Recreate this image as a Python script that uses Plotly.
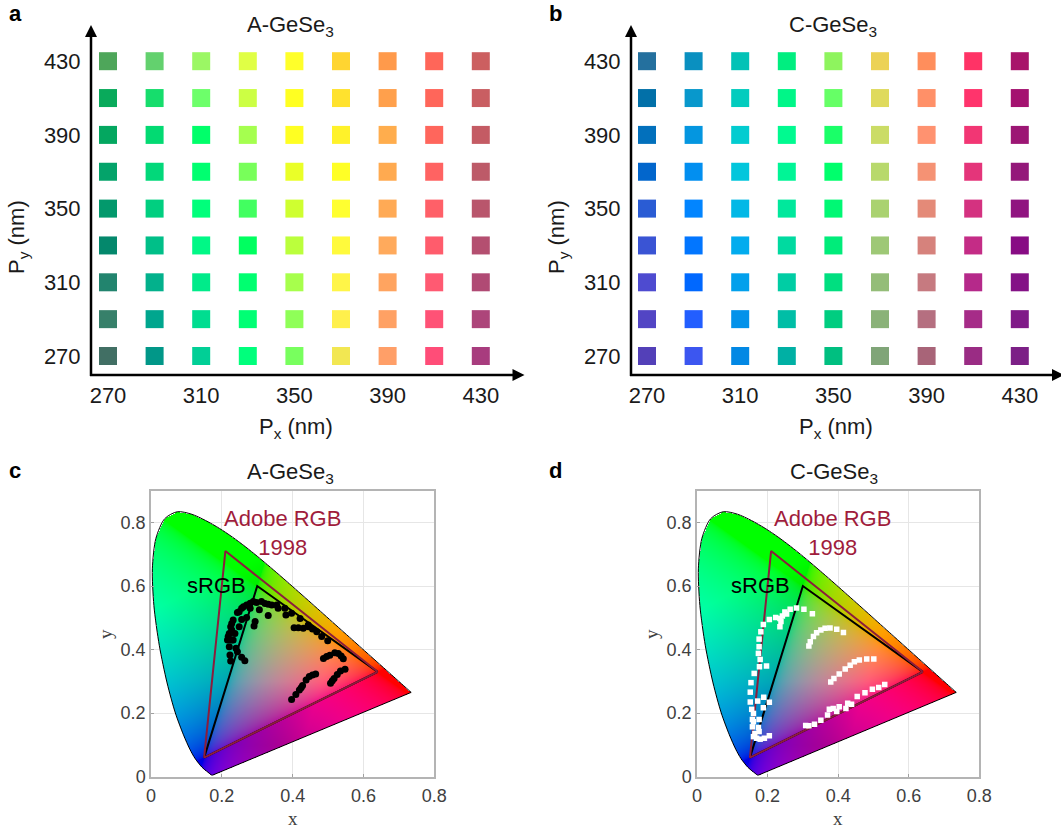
import numpy as np
import plotly.graph_objects as go

W, H = 1061, 833

# ---------- data ----------
P_nm = [270, 290, 310, 330, 350, 370, 390, 410, 430]
tick_nm = [270, 310, 350, 390, 430]

# colours by row, first row is Py = 430 nm, last row Py = 270 nm
a_colors = [
    ["#4ea65a", "#63d16e", "#9bf764", "#e0ff45", "#ffff2a", "#ffd531", "#ff9a4b", "#ff6659", "#cc5f60"],
    ["#09aa5b", "#16dd6c", "#6dff6a", "#ccff44", "#ffff22", "#ffe22e", "#ffa04c", "#ff665a", "#c95e62"],
    ["#04a760", "#02da72", "#00ff6a", "#a5ff4f", "#ffff22", "#fff22a", "#ffad4d", "#ff665c", "#c45b64"],
    ["#04a36a", "#02d87a", "#00ff70", "#78ff5a", "#eaff28", "#ffff26", "#ffaa50", "#ff6362", "#bd5a68"],
    ["#03996c", "#01cf80", "#00ff7b", "#42ff60", "#cfff30", "#ffff30", "#ffaa55", "#ff6068", "#b9566c"],
    ["#04886c", "#00bf88", "#00f886", "#00ff60", "#bbff3c", "#fffa3c", "#ffaa5c", "#ff5c6c", "#b44f70"],
    ["#22846e", "#03b18c", "#00eb8a", "#00ff70", "#a7ff4c", "#fff548", "#ffa460", "#ff5a72", "#b04a74"],
    ["#37806a", "#00a68e", "#00dd90", "#00ff74", "#8fff58", "#fff04c", "#ffa164", "#ff5276", "#ad457a"],
    ["#416f64", "#019788", "#01cf96", "#00ff7c", "#78ff5e", "#f2e752", "#ff9f68", "#ff4d78", "#a83c7e"],
]
b_colors = [
    ["#24709e", "#0a90c0", "#02c2b6", "#00ee80", "#8ef45e", "#ecd256", "#ff8e5c", "#ff3366", "#a8146a"],
    ["#0270a8", "#0898cc", "#02ccbe", "#00f688", "#66ff66", "#dfda5c", "#ff9068", "#ff346c", "#a41270"],
    ["#0270bc", "#0496e0", "#02ccd0", "#00fa90", "#1aff68", "#cbdc66", "#ff9270", "#f23674", "#9c1674"],
    ["#0266cc", "#028ff0", "#02c6dc", "#00f596", "#00ff6c", "#b8d96c", "#f59274", "#e4357a", "#94187a"],
    ["#2a5cd4", "#0285ff", "#02b8e6", "#00e89c", "#00f874", "#aad270", "#e48a78", "#d43280", "#901480"],
    ["#3a54d4", "#0276ff", "#02acee", "#00daa0", "#00ec7a", "#9ec876", "#d6827c", "#c42c86", "#880c84"],
    ["#4e4bd0", "#0068ff", "#02a0ec", "#00cda4", "#00df80", "#94bd78", "#c67a80", "#b5298a", "#841286"],
    ["#5245c4", "#225eff", "#0292ea", "#00bea6", "#00cd80", "#8ab278", "#b56f80", "#a62c88", "#801a88"],
    ["#5340b8", "#3c56f0", "#0288e4", "#00b0a4", "#00bf80", "#80a578", "#a86478", "#9a2c84", "#7c2086"],
]

# CIE 1931 spectral locus (the last point closes it along the purple line)
locus_x = [.1741, .1733, .1714, .1689, .1644, .1566, .1440, .1241, .1096, .0913, .0687, .0454, .0235, .0082, .0039,
           .0139, .0389, .0743, .1142, .1547, .1929, .2296, .2658, .3016, .3373, .3731, .4087, .4441, .4788, .5125,
           .5448, .5752, .6029, .6270, .6658, .6915, .7079, .7260, .7347, .1741]
locus_y = [.0050, .0048, .0051, .0069, .0109, .0177, .0297, .0578, .0868, .1327, .2007, .2950, .4127, .5384, .6548,
           .7502, .8120, .8338, .8262, .8059, .7816, .7543, .7243, .6923, .6589, .6245, .5896, .5547, .5202, .4866,
           .4544, .4242, .3965, .3725, .3340, .3083, .2920, .2740, .2653, .0050]
srgb_x = [.64, .30, .15, .64]
srgb_y = [.33, .60, .06, .33]
adobe_x = [.64, .21, .15, .64]
adobe_y = [.33, .71, .06, .33]

# A-GeSe3 measured chromaticities
c_x = [.265, .256, .244, .240, .225, .223, .221, .216, .221, .225, .232, .244, .256, .270, .289, .312, .331, .355,
       .378, .397, .421, .444, .232, .237, .249, .256, .270, .280, .306, .331, .359, .381, .294, .291, .228, .249,
       .261, .228, .218, .228, .280, .298, .322, .341,
       .404, .416, .430, .444, .456, .468, .482, .499,
       .487, .496, .505, .519, .529, .537, .543,
       .397, .409, .419, .424, .428, .438, .447, .456, .465,
       .507, .512, .517, .526, .535, .548]
c_y = [.365, .376, .393, .404, .364, .383, .409, .430, .451, .472, .493, .517, .530, .540, .551, .551, .543, .540,
       .530, .514, .498, .477, .430, .451, .472, .495, .501, .530, .525, .507, .530, .509, .488, .474, .462, .519,
       .535, .482, .441, .430, .546, .548, .545, .540,
       .469, .469, .467, .472, .465, .456, .441, .428,
       .372, .378, .382, .390, .388, .380, .371,
       .243, .259, .273, .280, .287, .304, .315, .320, .323,
       .294, .302, .309, .322, .333, .338]

# C-GeSe3 measured chromaticities
d_x = [.327, .303, .282, .264, .249, .242, .254, .235, .223, .238, .235, .205, .188, .181, .176, .176, .174, .179,
       .197, .177, .162, .153, .151, .151, .172, .189, .205, .155, .160, .188, .157, .176, .160, .157, .174, .176,
       .164, .160, .169, .179, .191, .205,
       .317, .321, .330, .339, .351, .363, .377, .396, .415,
       .379, .388, .403, .420, .434, .446, .460, .481, .501,
       .308, .317, .333, .351, .370, .375, .386, .396, .403, .422, .427, .438, .454, .476, .497, .515, .532]
d_y = [.513, .527, .531, .527, .518, .506, .512, .498, .501, .488, .472, .495, .479, .456, .433, .409, .388, .369,
       .348, .346, .325, .296, .266, .235, .238, .250, .234, .212, .199, .217, .180, .180, .173, .157, .155, .142,
       .136, .126, .121, .118, .121, .129,
       .411, .425, .441, .453, .462, .467, .468, .464, .454,
       .298, .309, .323, .339, .351, .362, .367, .370, .370,
       .161, .160, .165, .178, .194, .212, .215, .205, .220, .215, .231, .228, .252, .264, .275, .281, .290]

cie_xticks = [0, 0.2, 0.4, 0.6, 0.8]
cie_yticks = [0, 0.2, 0.4, 0.6, 0.8]

# ---------- helpers ----------
FONT = "Liberation Sans, Arial, sans-serif"
SERIF = "Liberation Serif, Times New Roman, serif"
fx = lambda p: p / W
fy = lambda p: 1 - p / H


def gamut_image(nx, ny, xmax, ymax):
    xs = (np.arange(nx) + .5) * xmax / nx
    ys = (np.arange(ny) + .5) * ymax / ny
    X, Y = np.meshgrid(xs, ys)
    # inside test against the locus polygon
    px, py = np.array(locus_x), np.array(locus_y)
    inside = np.zeros(X.shape, bool)
    for i in range(len(px) - 1):
        x1, y1, x2, y2 = px[i], py[i], px[i + 1], py[i + 1]
        cond = (y1 > Y) != (y2 > Y)
        xc = x1 + (Y - y1) * (x2 - x1) / (y2 - y1 + 1e-12)
        inside ^= cond & (X < xc)
    XX, YY, ZZ = X, Y, 1 - X - Y
    R = 3.2406 * XX - 1.5372 * YY - 0.4986 * ZZ
    G = -0.9689 * XX + 1.8758 * YY + 0.0415 * ZZ
    B = 0.0557 * XX - 0.2040 * YY + 1.0570 * ZZ
    rgb = np.clip(np.stack([R, G, B], -1), 0, 1)
    rgb = np.where(rgb <= .0031308, 12.92 * rgb, 1.055 * rgb ** (1 / 2.4) - .055)
    # the purple band of the reference is darker than a plain conversion
    dim = 1 - .25 * np.exp(-((X - .38) / .18) ** 2) * np.clip((.3 - Y) / .2, 0, 1)
    rgb = rgb * dim[..., None]
    out = np.concatenate([np.round(rgb * 255), inside[..., None].astype(float)], -1)
    return out.tolist()


fig = go.Figure()
layout_axes = {}
shapes = []
annotations = []


def text(px, py, s, size=22, color="#1a1a1a", family=FONT, angle=0):
    annotations.append(dict(x=fx(px), y=fy(py), xref="paper", yref="paper", text=s, showarrow=False,
                            xanchor="center", yanchor="middle", textangle=angle,
                            font=dict(size=size, color=color, family=family)))


def square_panel(idx, colors, xleft, xtip, x270, title_x, letter):
    bottom, top = 375.0, 25.0
    right = min(525.0 + (xleft - 91), W)
    dx_nm, dy_nm = 46.6 / 20, 36.85 / 20
    y270 = 356.0
    xs, ys, cs = [], [], []
    for r, row in enumerate(colors):
        for c, col in enumerate(row):
            xs.append(P_nm[c])
            ys.append(P_nm[len(colors) - 1 - r])
            cs.append(col)
    xa, ya = f"x{idx}", f"y{idx}"
    fig.add_trace(go.Scatter(x=xs, y=ys, mode="markers", xaxis=xa, yaxis=ya, showlegend=False, hoverinfo="skip",
                             marker=dict(symbol="square", size=18, color=cs, line=dict(width=0))))
    tickfont = dict(size=22, color="#1a1a1a", family=FONT)
    layout_axes[f"xaxis{idx}"] = dict(domain=[fx(xleft), fx(right)], anchor=ya, automargin=False,
                                      range=[270 - (x270 - xleft) / dx_nm, 270 + (right - x270) / dx_nm],
                                      tickvals=tick_nm, ticks="outside", ticklen=1, tickcolor="rgba(0,0,0,0)",
                                      showgrid=False, zeroline=False, showline=False, tickfont=tickfont)
    layout_axes[f"yaxis{idx}"] = dict(domain=[fy(bottom), fy(top)], anchor=xa, automargin=False,
                                      range=[270 - (bottom - y270) / dy_nm, 270 + (y270 - top) / dy_nm],
                                      tickvals=tick_nm, ticks="outside", ticklen=5, tickcolor="rgba(0,0,0,0)",
                                      showgrid=False, zeroline=False, showline=False, tickfont=tickfont)
    # arrowed axes
    ax_line = dict(color="black", width=2.5)
    shapes.append(dict(type="line", xref="paper", yref="paper", x0=fx(xleft), x1=fx(xleft), y0=fy(bottom + 1),
                       y1=fy(top + 10), line=ax_line))
    shapes.append(dict(type="line", xref="paper", yref="paper", x0=fx(xleft - 1), x1=fx(min(xtip - 10, W)), y0=fy(bottom),
                       y1=fy(bottom), line=ax_line))
    shapes.append(dict(type="path", xref="paper", yref="paper", fillcolor="black", line=dict(width=0),
                       path=f"M {fx(xleft)} {fy(top)} L {fx(xleft - 6)} {fy(top + 12)} L {fx(xleft + 6)} {fy(top + 12)} Z"))
    shapes.append(dict(type="path", xref="paper", yref="paper", fillcolor="black", line=dict(width=0),
                       path=f"M {fx(xtip)} {fy(bottom)} L {fx(xtip - 12)} {fy(bottom - 6)} L {fx(xtip - 12)} {fy(bottom + 6)} Z"))
    text(title_x, 26, letter + "-GeSe<sub>3</sub>")
    text(xleft + 205, 428, "P<sub>x</sub> (nm)")
    text(xleft - 73, 237, "P<sub>y</sub> (nm)", angle=-90)


def cie_panel(idx, left, right, marker, mx, my, title_x, adobe_cx, srgb_cx, letter):
    bottom, top = 776.7, 490.7
    xa, ya = f"x{idx}", f"y{idx}"
    common = dict(xaxis=xa, yaxis=ya, showlegend=False, hoverinfo="skip")
    nx, ny = int(round(right - left)), int(round(bottom - top))
    fig.add_trace(go.Image(z=gamut_image(nx, ny, .8, .9), colormodel="rgba", x0=.4 / nx, dx=.8 / nx, y0=.45 / ny,
                           dy=.9 / ny, xaxis=xa, yaxis=ya, hoverinfo="skip"))
    fig.add_trace(go.Scatter(x=locus_x[:-1], y=locus_y[:-1], mode="lines",
                             line=dict(color="black", width=1, shape="spline", smoothing=.8), **common))
    fig.add_trace(go.Scatter(x=locus_x[-2:], y=locus_y[-2:], mode="lines", line=dict(color="black", width=1), **common))
    fig.add_trace(go.Scatter(x=srgb_x, y=srgb_y, mode="lines", line=dict(color="black", width=2), **common))
    fig.add_trace(go.Scatter(x=adobe_x, y=adobe_y, mode="lines", line=dict(color="#8c1d3c", width=2), **common))
    fig.add_trace(go.Scatter(x=mx, y=my, mode="markers", marker=marker, **common))
    ax = dict(showgrid=True, gridcolor="#e6e6e6", gridwidth=1, zeroline=False, showline=True, linecolor="#b4b4b4",
              linewidth=1.5, mirror=True, ticks="inside", ticklen=3, tickcolor="#a0a0a0", tickwidth=1,
              automargin=False, tickfont=dict(size=18, color="#404040", family=FONT))
    ratio = ((bottom - top) / .9) / ((right - left) / .8)
    layout_axes[f"xaxis{idx}"] = dict(domain=[fx(left), fx(right)], anchor=ya, range=[0, .8], tickvals=cie_xticks,
                                      ticktext=["0", "0.2", "0.4", "0.6", "0.8"], constrain="domain",
                                      ticklabelstandoff=2, **ax)
    layout_axes[f"yaxis{idx}"] = dict(domain=[fy(bottom), fy(top)], anchor=xa, range=[0, .9], tickvals=cie_yticks,
                                      ticktext=["0", "0.2", "0.4", "0.6", "0.8"], scaleanchor=xa, scaleratio=ratio,
                                      constrain="domain", **ax)
    text(title_x, 473, letter + "-GeSe<sub>3</sub>")
    text(adobe_cx, 533, "Adobe RGB<br>1998", color="#a01c3c")
    text(srgb_cx, 585, "sRGB", size=22, color="black")
    text((left + right) / 2, 818, "x", size=19, color="#404040", family=SERIF)
    text(left - 46, 634, "y", size=19, color="#404040", family=SERIF, angle=-90)


square_panel(1, a_colors, 91, 524.5, 108, 290, "A")
square_panel(2, b_colors, 631, 1064, 647, 833, "C")
cie_panel(3, 151, 434.3, dict(symbol="circle", size=7, color="black"), c_x, c_y, 290, 282, 216.7, "A")
cie_panel(4, 697, 979.3, dict(symbol="square", size=5.5, color="white"), d_x, d_y, 834, 832, 760, "C")

for s, px, py in [("a", 15, 13), ("b", 555, 13), ("c", 15, 470), ("d", 555, 470)]:
    text(px, py, f"<b>{s}</b>", size=22, color="black")

fig.update_layout(width=W, height=H, margin=dict(l=0, r=0, t=0, b=0), paper_bgcolor="white", plot_bgcolor="white",
                  showlegend=False, shapes=shapes, annotations=annotations, font=dict(family=FONT), **layout_axes)
fig.write_html("out.html", config={"displayModeBar": False}, post_script="document.body.style.margin='0';")
